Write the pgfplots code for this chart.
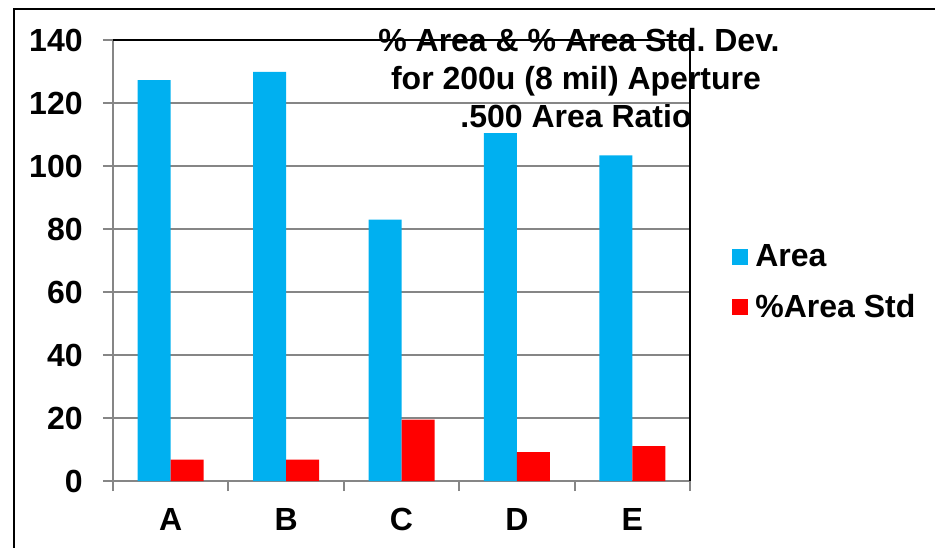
\documentclass[border=0pt]{standalone}
\usepackage{pgfplots}
\pgfplotsset{compat=1.18}
\usepackage{fontspec}
\setmainfont{Liberation Sans}
\definecolor{areablue}{HTML}{00B0F0}
\definecolor{stdred}{HTML}{FF0000}
\definecolor{gridgray}{HTML}{868686}
\begin{document}
\begin{tikzpicture}
\useasboundingbox (0,0) rectangle (467.5bp,274bp);
% outer chart frame (left and top edges visible)
\draw[line width=1bp] (7bp,-20bp) -- (7bp,269.5bp) -- (500bp,269.5bp);
% title
\begin{scope}[every node/.style={font=\fontsize{16bp}{19bp}\selectfont\bfseries, inner sep=0pt, anchor=base}]
\node at (289.5bp,248bp) {\% Area \& \% Area Std.\ Dev.};
\node at (288bp,229bp) {for 200u (8 mil) Aperture};
\node at (288bp,210bp) {.500 Area Ratio};
\end{scope}
\begin{axis}[
  at={(56.5bp,33.5bp)}, anchor=south west,
  scale only axis,
  width=288.5bp, height=220.5bp,
  ybar=0pt, bar width=16.5bp,
  xmin=-0.5, xmax=4.5,
  ymin=0, ymax=140,
  ytick={0,20,...,140},
  xtick={-0.5,0.5,...,4.5},
  xticklabels={},
  extra x ticks={0,1,2,3,4},
  extra x tick labels={A,B,C,D,E},
  extra x tick style={major tick length=0pt, grid=none},
  tick align=outside,
  major tick length=5bp,
  tick style={gridgray, line width=1bp},
  ymajorgrids,
  major grid style={gridgray, line width=1bp},
  axis x line*=bottom, axis y line*=left,
  axis line style={gridgray, line width=1bp, -},
  tick label style={font=\fontsize{16bp}{19bp}\selectfont\bfseries},
  /pgf/number format/assume math mode=true,
  yticklabel style={inner sep=0pt, xshift=-10bp},
  xticklabel style={inner sep=0pt, yshift=-13.5bp},
  legend style={draw=none, fill=none, at={(1.0624,0.547)}, anchor=north west,
    font=\fontsize{16bp}{19bp}\selectfont\bfseries,
    row sep=12.5bp, column sep=3.5bp, nodes={inner sep=0pt}},
  legend cell align=left,
  legend image code/.code={\fill (0bp,-4bp) rectangle (8bp,4bp);},
  clip=false,
]
\addplot[fill=areablue, draw=none] coordinates {(0,127.3) (1,129.9) (2,83.0) (3,110.4) (4,103.4)};
\addplot[fill=stdred, draw=none] coordinates {(0,6.8) (1,6.8) (2,19.5) (3,9.2) (4,11.1)};
\legend{Area,\%Area Std}
% plot area border, top and right
\draw[black, line width=0.8bp] (rel axis cs:0,1) -- (rel axis cs:1,1) -- (rel axis cs:1,0);
\end{axis}
\end{tikzpicture}
\end{document}
